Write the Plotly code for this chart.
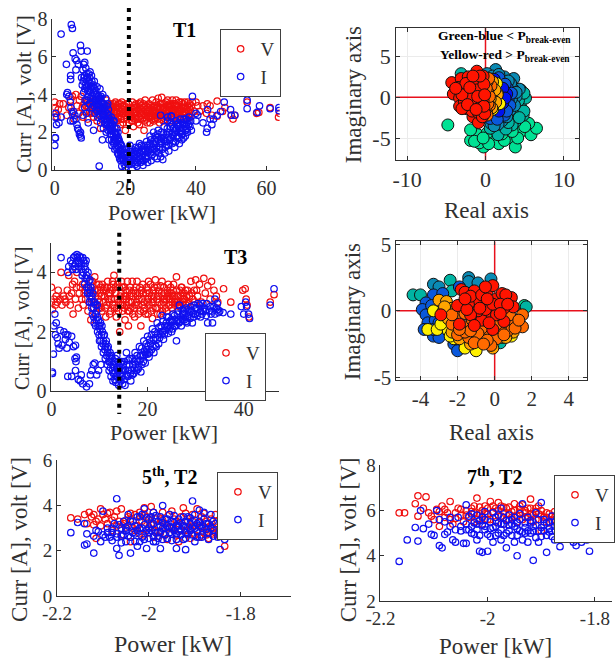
import plotly.graph_objects as go

# ---------- data: (power, value) ----------
t1_v = [(0,3.6),(.2,3.3),(.4,3),(.6,2.8),(1,3.2),(1.4,3.5),(2.4,3.5),(3.4,2.9),(4,3.3),(4.5,3.7),(4.8,3.1),(5,3.9),(5.5,2.7),(6,4),(6.3,3.4),(6.8,3),(7,3.7),(7.5,3.9),(7.8,3.3),(8,2.8),(8.3,3.5),(8.7,3.1),(9,3.7),(9.3,2.7),(9.6,3.3),(10,3.6),(10.3,3),(10.7,3.4),(11,2.8),(11.3,3.7),(11.6,3.2),(12,2.6),(12.3,3.5),(12.6,3),(13,2.2),(13.3,3.6),(13.6,2.9),(14,3.3),(14.4,2.5),(14.7,3.7),(15,3),(15.4,3.4),(15.7,2.7),(16,3.2),(16.4,2.4),(16.7,3.5),(17,2.9),(17.3,3.3),(17.6,2.6),(18,3.5),(18.3,3),(18.6,2.4),(19,3.6),(19.3,3.2),(19.6,2.7),(20,2.1),(20.3,3.5),(20.6,3),(21,2.5),(21.3,3.3),(21.7,2.8),(22,3.6),(22.3,2.3),(22.7,3.1),(23,3.5),(23.3,2.7),(23.7,3.2),(24,2.4),(24.3,3.6),(24.6,2.9),(25,3.3),(25.3,2.1),(25.6,3.7),(26,2.7),(26.3,3.1),(26.7,3.5),(27,2.5),(27.3,3),(27.7,3.7),(28,3.3),(28.3,2.7),(28.7,3.6),(29,2.9),(29.3,3.8),(29.7,2.5),(30,3.3),(30.3,3.85),(30.6,2.9),(31,3.5),(31.3,2.7),(31.7,3.2),(32,3.7),(32.3,3),(32.7,2.6),(33,3.4),(33.3,3.7),(33.7,2.9),(34,3.2),(34.4,3.7),(34.7,2.7),(35,3.4),(35.4,3),(35.8,3.6),(36,2.8),(36.4,3.3),(36.8,3.6),(37.2,3),(37.6,3.4),(38,2.9),(38.4,3.2),(39,3.6),(39.5,3.1),(40,3.6),(40.5,3.4),(41,3.1),(42,3.4),(43.2,3.5),(44,3.4),(43,3),(44.5,2.9),(46,3.65),(46,2.85),(47.5,3.1),(48.2,3.3),(50,2.9),(50.5,2.7),(51,2.9),(54.5,3.6),(57.2,3),(57.8,3.05),(61,3.3),(63.4,2.8),(63.7,3)]
t1_v_core = [(15.2,2.9),(15.9,3.5),(16.2,2.7),(16.9,3.1),(17.2,3.6),(17.9,2.8),(18.1,3.3),(18.8,2.7),(19.1,3),(19.8,3.4),(20.1,2.9),(20.8,3.3),(21.2,2.8),(21.9,3.1),(22.1,2.6),(22.5,3.4),(23.2,2.9),(23.5,2.5),(23.9,3.5),(24.2,3),(24.8,2.7),(25.1,3.5),(25.5,2.9),(25.9,3.2),(26.2,2.5),(26.5,3.3),(26.9,2.9),(27.2,3.4),(27.5,2.7),(27.9,3.1),(28.1,2.6),(28.5,3.1),(28.9,3.3),(29.2,2.7),(29.5,3.2),(29.9,3.5),(30.2,2.7),(30.5,3.1),(30.9,3.3),(31.2,2.9),(31.5,3.6),(31.9,2.9),(32.2,3.4),(32.5,3.2),(32.9,2.8),(33.2,3.1),(33.5,3.5),(33.9,2.7),(34.2,3),(34.5,3.4),(34.9,3.1),(35.2,2.8),(35.6,3.2),(36.2,3),(36.6,2.7),(37,3.3),(37.4,2.8),(37.8,3.1),(38.2,3.5),(38.6,3),(17.5,3.1),(18.5,3.5),(19.5,3),(20.5,3.2),(21.5,3),(22.6,3.3),(24.5,3.2),(25.7,3.1),(27.4,2.9),(28.6,2.9),(30.1,3),(31.4,3.1),(33.1,3),(34.8,3.2),(36.5,3.1),(8.9,3.4),(9.9,3.1),(10.9,3.2),(11.9,3.4),(12.9,3.3),(14.1,2.9),(14.9,3.3)]
t1_v_fill = [(15.5,3.1),(16.1,3),(16.6,3.3),(17.1,2.7),(17.7,3.4),(18.2,2.8),(18.9,3.2),(19.4,2.5),(19.9,3.1),(20.4,2.7),(20.9,3.5),(21.4,3.1),(21.8,2.6),(22.4,3),(22.8,2.7),(23.4,3.3),(23.8,2.8),(24.4,3.4),(24.9,3.1),(25.4,2.6),(25.8,3.4),(26.4,2.8),(26.8,3.2),(27.1,2.8),(27.6,3.3),(28.2,3),(28.8,2.8),(29.1,3.4),(29.6,2.9),(30.4,3.5),(30.8,2.6),(31.1,3.3),(31.6,2.8),(32.1,3.1),(32.6,3.5),(33.4,2.8),(33.6,3.2),(34.1,3.5),(34.6,2.9),(35.1,3.2),(35.5,2.7),(35.9,3.3),(36.3,3.5),(36.9,2.9),(37.3,3.2),(37.7,3.6),(38.1,3.3),(38.7,3.4),(16,3.4),(17.4,3),(18.4,3.1),(19.2,3.4),(20.2,3.1),(21.1,3.2),(22.2,3.2),(23.1,3.1),(24.1,2.7),(25.2,3),(26.1,3),(27.3,3.2),(28.4,3.4),(29.4,3),(30.7,3.3),(31.8,3.4),(32.8,3.3),(33.8,3.1),(35.3,3.6),(36.7,3.3),(38.3,2.8),(9.2,3.6),(10.2,3.4),(11.2,3),(12.2,3.2),(13.2,3.1),(13.8,3.5),(14.5,3.1)]
t1_i = [(1.8,7.2),(4.7,7.7),(5,7.5),(7.3,6.6),(7.5,6.3),(9.2,6.3),(5.2,6.2),(3.3,5.6),(5.8,5.9),(6.2,5.8),(6.7,5.6),(6,5.3),(4.5,5),(4.5,4.8),(8.5,5.7),(8.2,5.6),(0,1.3),(.1,1.7),(.2,1.7),(.5,2.4),(.1,2.8),(.2,3),(1.2,2.5),(1.8,2.8),(3.4,4),(3.6,4.1),(4,3.9),(4.4,3.6),(4.6,3.3),(4.5,2.6),(5,3),(5.3,3.1),(5.7,2.9),(6,2.7),(6.3,2.4),(6.5,2.2),(6.8,2.1),(7,1.9),(7.3,1.8),(7.5,1.7),(7.3,2),(12.6,.2),(13.5,1.6),(11,2.1),(9.5,2.5),(8,2.9),(8.5,3.3),(9,3),(5.2,2.6),(7.6,4.9),(7.8,4.5),(8,5.3),(8.2,4.1),(8.4,5),(8.6,3.7),(8.8,5.4),(9,4.4),(9.2,4.9),(9.4,3.9),(9.6,5.1),(9.8,3.5),(10,4.6),(10.2,4.1),(10.4,5),(10.6,3.3),(10.8,4.4),(11,3.8),(11.2,4.7),(11.4,3),(11.6,4.2),(11.8,3.5),(12,4.4),(12.2,2.8),(12.4,3.9),(12.6,3.2),(12.8,4.3),(13,2.5),(13.2,3.6),(13.4,3),(13.6,4),(13.8,2.2),(14,3.3),(14.2,2.7),(14.4,3.8),(14.6,2),(14.8,3),(15,2.4),(15.2,3.2),(15.4,1.6),(15.6,2.7),(15.8,2.1),(16,2.8),(16.2,1.3),(16.4,2.4),(16.6,1.8),(16.8,2.6),(17,1.1),(17.2,2),(17.4,1.5),(17.6,2.2),(17.8,.9),(18,1.7),(18.2,1.2),(18.4,.6),(18.6,1.4),(18.8,.9),(19,.2),(19.2,1.1),(19.5,.5),(19.8,.8),(20,.15),(20.3,1.1),(20.6,.4),(21,.7),(21.3,1.3),(21.6,.3),(22,.05),(22.3,.9),(22.6,.5),(23,1.2),(23.3,.2),(23.6,.7),(24,1.4),(24.3,.4),(24.6,1),(25,.25),(25.3,1.3),(25.6,.7),(26,1.5),(26.3,.4),(26.6,1),(27,1.8),(27.3,.5),(27.6,1.2),(28,2),(28.3,.7),(28.6,1.5),(29,.6),(29.3,2.1),(29.6,1.1),(30,.7),(30.3,1.7),(30.6,.55),(31,2.3),(31.3,1.2),(31.6,1.9),(32,2.6),(32.3,1),(32.6,1.6),(33,2.85),(33.3,1.4),(33.6,2.2),(34,1.2),(34.3,2.6),(34.6,1.8),(35,2.3),(35.3,1.4),(35.6,2.7),(36,1.6),(36.3,2.2),(36.6,2.7),(37,1.8),(37.3,2.4),(37.6,2),(38,2.8),(38.3,2.3),(39,3.9),(40,3),(40.5,2.9),(40,2.6),(42,2.5),(43,2),(43.2,2.2),(43.3,3.2),(44,2.7),(44.5,2.4),(45,2.7),(46,2.9),(47,3.1),(48,3.6),(49.8,3.2),(50,2.9),(51,2.9),(54.5,3.7),(54.5,3.25),(58,3.4),(57.3,3.05),(61,3.25),(63.5,3.3),(63.5,3.15),(30,2.9),(32,2.8),(33,2.85)]
t1_i_core = [(8.1,4.7),(8.5,4.3),(8.9,4.8),(9.1,3.7),(9.5,4.5),(9.7,4.2),(9.9,4.9),(10.1,3.8),(10.3,4.4),(10.7,3.9),(10.9,4.1),(11.1,3.4),(11.3,4.3),(11.5,3.7),(11.7,3.2),(11.9,4),(12.1,3.1),(12.3,3.7),(12.5,3.5),(12.7,2.9),(12.9,3.4),(13.1,3.9),(13.3,2.7),(13.5,3.3),(13.7,2.9),(13.9,3.5),(14.1,2.5),(14.3,3.1),(14.5,2.4),(14.7,3.4),(14.9,2.6),(15.1,2.1),(15.3,2.9),(15.5,2.3),(15.7,1.9),(15.9,2.5),(16.1,1.6),(16.3,2.1),(16.5,2.6),(16.7,1.4),(16.9,2),(17.1,1.7),(17.3,1.2),(17.5,1.8),(17.7,1.3),(17.9,2),(18.1,.8),(18.3,1.5),(18.5,1),(18.7,.5),(18.9,1.3),(19.1,.7),(19.4,.9),(19.7,.3),(20.1,.6),(20.5,.9),(20.9,.3),(21.2,1),(21.5,.6),(21.9,1.1),(22.2,.4),(22.5,.8),(22.9,.3),(23.2,1),(23.5,.4),(23.9,.9),(24.2,.6),(24.5,1.3),(24.9,.5),(25.2,.9),(25.5,1.1),(25.9,.6),(26.2,1.3),(26.5,.7),(26.9,1.1),(27.2,1.6),(27.5,.8),(27.9,1.4),(28.2,1.1),(28.5,1.8),(28.9,1.2),(29.2,1.6),(29.5,.9),(29.9,1.4),(30.2,2),(30.5,1.1),(30.9,1.6),(31.2,.9),(31.5,1.5),(31.9,2.2),(32.2,1.3),(32.5,2),(32.9,1.7),(33.2,2.4),(33.5,1.8),(33.9,2),(34.2,1.5),(34.5,2.2),(34.9,1.7),(35.2,2),(35.5,2.4),(35.9,1.9),(36.2,2.5),(36.5,1.7),(36.9,2.3),(37.2,2.7),(37.5,2.2),(37.9,2.4),(38.5,2.6)]
t1_i_fill = [(8.3,4.9),(8.7,4.5),(9.3,4.2),(9.6,4.7),(10.1,4.3),(10.5,4.7),(10.9,3.6),(11.4,4),(11.8,3.8),(12.2,3.5),(12.6,3.8),(13,3.2),(13.4,3.5),(13.8,3.1),(14.2,3.4),(14.6,2.7),(15,2.9),(15.4,2.5),(15.8,2.4),(16.2,2.2),(16.6,1.5),(17,2.2),(17.4,1.9),(17.8,1.6),(18.2,1.6),(18.6,.8),(19,1),(19.4,.6),(19.8,1.1),(20.2,.4),(20.7,.7),(21.2,.5),(21.7,.9),(22.2,.7),(22.7,1),(23.2,.6),(23.7,1.2),(24.2,.9),(24.7,.7),(25.2,.5),(25.7,1),(26.2,.9),(26.7,1.3),(27.2,.9),(27.7,1.1),(28.2,1.6),(28.7,1),(29.2,1.9),(29.7,1.2),(30.2,1.5),(30.7,1.9),(31.2,1.5),(31.7,1.3),(32.2,1.8),(32.7,2.3),(33.2,1.9),(33.7,1.5),(34.2,2.1),(34.7,2.4),(35.2,1.7),(35.7,2.1),(36.2,1.9),(36.7,2.4),(37.2,2.1),(37.7,2.6),(38.7,2.1),(9,5.1),(10,5.2),(11,4.5),(12,3.3),(13,3.8),(14,2.9),(15,3.5),(16,1.9),(17,1.6),(18,1.1),(19,.6),(23,.8),(25,1.1),(27,1.4),(29,1.7),(31,1.7),(33,2.5),(35,2.5),(37,2.1)]

t3_v = [(0,3.5),(0,3),(.2,2.75),(.5,3.1),(.8,2.9),(1,3.2),(1.4,3.4),(1.8,3.1),(2,4),(2.5,3.2),(3,3),(3.3,3.4),(3.6,3.9),(3.9,2.9),(4.2,3.3),(4.5,2.6),(4.8,3.7),(5,3.1),(5.3,4),(5.6,2.8),(6,3.5),(6.3,3.1),(6.6,2.9),(7,3.4),(7.3,3.8),(7.6,2.7),(8,3.3),(8.2,2.4),(8.5,3.7),(8.8,3),(9,3.85),(9.3,2.6),(9.6,3.4),(10,3),(10.3,2.8),(10.6,3.6),(11,3.2),(11.3,2.5),(11.6,3.5),(12,3),(12.3,2.7),(12.6,3.4),(13,3.9),(13.2,3.1),(13.5,2.5),(13.8,3.6),(14,3),(14.2,2),(14.5,3.3),(14.8,2.7),(15,3.5),(15.3,2.4),(15.6,3.1),(16,2.2),(16.2,3.4),(16.5,2.8),(16.8,3.7),(17,3.2),(17.3,2.5),(17.6,3.5),(18,2.9),(18.3,3.3),(18.6,2.2),(19,3.6),(19.3,3),(19.6,2.6),(20,3.4),(20.3,2.9),(20.6,3.6),(21,2.45),(21.3,3.2),(21.6,3.75),(22,2.8),(22.3,3.4),(22.6,2.6),(23,3.7),(23.3,3),(23.6,3.3),(24,2.7),(24.3,3.6),(24.6,3.1),(25,2.8),(25.3,3.4),(25.6,3),(26,3.85),(26.3,3.2),(26.6,2.85),(27,3.5),(27.3,3.1),(27.6,3.3),(28,2.9),(28.3,3.4),(29,3.7),(29.4,3.1),(29.7,3.4),(30,3.75),(30.4,3.2),(30.8,3.6),(31.2,3),(31.7,3.8),(32,3.3),(32.5,3.55),(33,3.1),(33.3,3.7),(33.8,3.4),(34.3,3.2),(34.6,3),(35.8,3.45),(37.3,3),(39.8,3.4),(40.3,3.45),(40.5,3.1),(40.7,2.9),(41.1,2.5),(45.5,3),(46.3,3.25)]
t3_v_core = [(8.4,3.1),(9.1,3.4),(9.5,2.9),(9.9,3.6),(10.1,3.3),(10.5,2.7),(10.9,3),(11.1,3.5),(11.5,2.9),(11.9,3.3),(12.1,2.6),(12.5,3.1),(12.9,3.6),(13.1,2.8),(13.4,3.3),(13.9,2.7),(14.1,3.5),(14.4,2.9),(14.9,3.1),(15.2,2.8),(15.5,3.4),(15.9,2.7),(16.1,3),(16.4,3.5),(16.9,2.6),(17.1,3.4),(17.4,2.9),(17.9,3.2),(18.1,2.6),(18.4,3.5),(18.9,2.9),(19.1,3.3),(19.4,2.8),(19.9,3),(20.1,2.6),(20.4,3.3),(20.9,3),(21.1,2.8),(21.4,3.5),(21.9,3.1),(22.1,2.6),(22.4,3),(22.9,3.3),(23.1,2.7),(23.4,3.5),(23.9,3.1),(24.1,3.4),(24.4,2.9),(24.9,3.3),(25.1,3),(25.4,3.6),(25.9,3.1),(26.1,3.4),(26.4,2.9),(26.9,3.2),(27.1,3.5),(27.4,3),(27.9,3.4),(28.1,3.2),(28.5,3),(11.7,3.7),(12.7,3.7),(14.6,3.7),(15.8,3.7),(17.8,3.7),(20.2,3.7),(22.7,3.55),(9.7,3.1),(16.3,3.2),(18.7,3.1),(21.2,3.1),(24.7,2.9),(7.9,3),(7.1,3.1),(6.8,3.3)]
t3_v_fill = [(8.6,3.5),(9.2,3.2),(9.8,2.8),(10.4,3.2),(10.8,3.4),(11.2,2.8),(11.8,3.1),(12.4,3.5),(12.8,2.9),(13.3,3.5),(13.7,3.1),(14.3,3.2),(14.7,3.5),(15.1,3.2),(15.7,2.9),(16.2,2.7),(16.7,3.3),(17.2,2.8),(17.7,3),(18.2,3.1),(18.8,3.4),(19.2,2.7),(19.7,3.3),(20.2,3.1),(20.7,2.7),(21.2,3.4),(21.7,2.8),(22.2,3.2),(22.8,2.9),(23.2,3.2),(23.7,2.8),(24.2,3.2),(24.8,3.5),(25.2,3.2),(25.7,2.9),(26.2,3),(26.7,3.4),(27.2,3.3),(27.7,3.1),(28.2,2.95),(28.7,3.2),(29.2,3.3),(29.8,3),(30.2,3.4),(8.8,2.8),(9.4,3.6),(10.2,3.5),(11.4,3.4),(12.2,3.3),(13.6,2.8),(14.8,2.9),(15.4,3.2),(16.6,3),(17.5,3.3),(18.5,2.7),(19.8,3.5),(20.8,3.2),(22,3.5),(23.5,3.1),(24.5,3.3),(25.5,3.2),(26.8,3),(7.2,3.5),(6.5,3.6),(5.8,3.3),(5.2,3.5),(4.4,3.6),(3.7,3.2),(2.8,3.1),(2.2,2.9),(1.2,3)]
t3_i = [(3.6,4.2),(4,4.4),(4.4,4.1),(4.6,4.5),(5,4.3),(5.3,4.6),(5.6,4.2),(5.8,4.55),(6.2,4.1),(6.5,4.5),(6.8,4.2),(7,3.8),(7.2,4.4),(7.4,3.5),(7.6,4),(7.8,3.7),(8,3.2),(8.2,3.5),(8.4,2.8),(8.6,3.3),(8.8,2.5),(9,3),(9.2,2.2),(9.4,2.7),(9.6,2),(9.8,2.4),(10,1.7),(10.2,2.3),(10.4,1.5),(10.6,2),(10.8,1.3),(11,1.9),(11.2,1.1),(11.4,1.7),(11.6,.9),(11.8,1.5),(12,.7),(12.2,1.3),(12.4,.5),(12.6,1.1),(12.8,.35),(13,1),(13.2,.6),(13.4,.3),(13.6,1.2),(13.8,.5),(14,.2),(14.2,.8),(14.4,.35),(14.6,1),(14.8,.25),(15,.7),(15.3,.2),(15.6,1.3),(15.9,.5),(16.2,.9),(16.5,.35),(16.8,1.1),(17.1,.6),(17.4,1.3),(17.7,.7),(18,1),(18.3,1.5),(18.6,.65),(18.9,1.2),(19.2,1.7),(19.5,.95),(19.8,1.4),(20,1.85),(20.3,1.15),(20.6,1.6),(21,2.1),(21.3,1.3),(21.6,1.8),(22,2.3),(22.3,1.6),(22.6,2),(23,2.55),(23.3,1.75),(23.6,2.2),(24,2.5),(24.3,1.95),(24.6,2.35),(25,2),(25.3,2.6),(25.6,2.2),(26,1.7),(26.3,2.4),(26.6,2.9),(27,2.2),(27.3,2.6),(27.6,2.4),(28,2.8),(28.3,2.5),(28.8,2.7),(29.3,2.3),(29.7,2.9),(30,2.6),(30.5,2.95),(31,2.7),(31.5,2.95),(32,2.7),(32.5,2.3),(33,2.85),(33.5,2.3),(34,3.1),(34.3,2.8),(34.8,2.65),(35.7,2.65),(37.3,2.6),(39.5,2.85),(40,2.6),(40.4,3),(40.6,2.85),(41,2.6),(41.2,2.45),(45.5,2.9),(46.3,3.45),(2,4.5),(3.4,4),(.2,.65),(.2,.6),(.4,1.25),(.5,2.2),(.7,2.6),(.8,1.9),(1,2.3),(1.2,1.8),(1.4,1.6),(1.6,1.45),(1.8,2.05),(2.2,1.55),(2.6,2),(2.9,1.75),(3.2,1.45),(3.4,1.9),(3.7,1.65),(4.2,1.85),(4.6,1.5),(5,1.55),(4.9,1.1),(5.2,1.15),(5.1,1),(3.4,.5),(4.2,.5),(5,.7),(5.6,.4),(6,.35),(6.2,.55),(6.5,.25),(7.3,.15),(7.9,.25),(8.1,.55),(8.4,.7),(9,.95),(9.4,.55),(9.8,.7),(10.3,.9),(3,1.9),(8.7,.9)]
t3_i_core = [(4.3,4.3),(4.9,4.55),(5.1,4.1),(5.5,4.4),(5.9,4.3),(6.1,4.5),(6.4,3.9),(6.7,4.4),(6.9,3.6),(7.1,4.1),(7.3,3.9),(7.5,3.3),(7.7,3.5),(7.9,3),(8.1,3.4),(8.3,3),(8.5,2.6),(8.7,3),(8.9,2.3),(9.1,2.6),(9.3,2.4),(9.5,2.9),(9.7,2.2),(9.9,1.9),(10.1,2.1),(10.3,1.7),(10.5,2.2),(10.7,1.6),(10.9,1.9),(11.1,1.4),(11.3,1.6),(11.5,1.2),(11.7,1.3),(11.9,1),(12.1,1),(12.3,.8),(12.5,1.2),(12.7,.7),(12.9,.6),(13.1,.8),(13.3,1.1),(13.5,.5),(13.7,.8),(13.9,1),(14.1,.4),(14.3,.6),(14.5,.7),(14.7,.5),(14.9,.9),(15.1,.4),(15.4,.7),(15.7,.9),(16,.7),(16.3,1.1),(16.6,.7),(16.9,.9),(17.2,1),(17.5,.9),(17.8,1.2),(18.1,.8),(18.5,1.2),(18.8,1.45),(19.1,1),(19.4,1.35),(19.7,1.6),(20.1,1.5),(20.4,1.3),(20.8,1.9),(21.1,1.5),(21.5,2),(21.8,1.5),(22.1,1.9),(22.5,1.8),(22.8,2.2),(23.1,2),(23.5,1.9),(23.9,2.3),(24.2,2.2),(24.5,2.1),(24.9,2.4),(25.2,2.1),(25.5,2.4),(25.9,2.2),(26.2,2.6),(26.5,2.3),(26.9,2.5),(27.2,2.4),(27.5,2.7),(27.9,2.5),(28.2,2.3),(28.6,2.6),(29,2.85),(29.5,2.6),(30.2,2.8),(30.8,2.9),(31.3,2.6),(31.8,2.8),(32.3,2.95),(33.2,2.6),(33.8,2.85),(34.5,2.95)]
t3_i_fill = [(4.7,4.2),(5.4,4.5),(5.7,4.35),(6.3,4.3),(6.6,4),(7,4.3),(7.4,3.8),(7.8,3.3),(8,3.75),(8.4,3.2),(8.8,2.8),(9.2,2.9),(9.6,2.5),(10,2.2),(10.4,1.9),(10.8,1.7),(11.2,1.5),(11.6,1.45),(12,1.2),(12.4,1),(12.8,.9),(13.2,.4),(13.6,.75),(14,.75),(14.4,.95),(14.8,.7),(15.2,1),(15.6,.55),(16,1.05),(16.4,.6),(16.8,.55),(17.2,.75),(17.6,1.05),(18,.75),(18.4,1.05),(18.8,.9),(19.2,1.2),(19.6,1.25),(20,1.25),(20.4,1.75),(20.8,1.4),(21.2,1.75),(21.6,1.55),(22,1.75),(22.4,2.15),(22.8,1.9),(23.2,2.35),(23.6,2.05),(24,2.15),(24.4,2.5),(24.8,2.2),(25.2,2.35),(25.6,2.55),(26,2.35),(26.4,2.7),(26.8,2.35),(27.2,2.75),(27.6,2.6),(28,2.35),(28.4,2.75),(28.8,2.45),(29.2,2.7),(29.6,2.5),(30,2.8),(30.4,2.55),(31,2.5),(31.6,2.7),(32.2,2.55),(32.8,2.7),(33.4,2.7),(34,2.6),(34.6,2.75),(35,2.7)]

h5_v = [(-2.17,3.45),(-2.155,3.4),(-2.14,3.6),(-2.13,3.7),(-2.12,3.15),(-2.115,2.55),(-2.11,3.4),(-2.105,3.85),(-2.1,3.6),(-2.09,3.2),(-2.085,3.7),(-2.08,2.9),(-2.07,3.75),(-2.065,3.3),(-2.06,3.85),(-2.05,3.05),(-2.045,3.5),(-2.04,2.4),(-2.035,3),(-2.03,3.6),(-2.02,2.75),(-2.015,3.3),(-2.01,3.9),(-2,3.05),(-1.995,3.95),(-1.99,2.6),(-1.985,3.4),(-1.98,3.1),(-1.975,2.8),(-1.97,3.7),(-1.965,3.2),(-1.96,2.5),(-1.955,3.6),(-1.95,3),(-1.945,3.4),(-1.94,2.7),(-1.935,2.4),(-1.93,3.5),(-1.925,3.9),(-1.92,2.9),(-1.915,3.3),(-1.91,2.55),(-1.905,3.6),(-1.9,3.1),(-1.895,3.85),(-1.89,2.6),(-1.885,3.5),(-1.88,2.8),(-1.875,3.3),(-1.87,2.55),(-1.865,3.4),(-1.86,3),(-1.855,3.6),(-1.85,2.7),(-1.84,3.05),(-1.835,2.2),(-1.83,3),(-1.82,2.75),(-1.81,2.85),(-1.785,2.7)]
h5_v_core = [(-2.125,3.5),(-2.115,3.3),(-2.095,3.4),(-2.075,3.5),(-2.055,3.2),(-2.04,3.4),(-2.025,3.1),(-2.005,3.5),(-1.995,3.2),(-1.985,2.9),(-1.975,3.4),(-1.965,2.7),(-1.955,3),(-1.945,2.9),(-1.935,3.2),(-1.925,3.1),(-1.915,2.7),(-1.905,3.3),(-1.895,2.9),(-1.885,3.1),(-1.875,2.7),(-1.865,3.1),(-1.855,2.8),(-2.02,3.3),(-2.01,3.6),(-2,2.8)]
h5_v_fill = [(-2.135,3.2),(-2.12,3.6),(-2.105,3.1),(-2.09,3.65),(-2.08,3.35),(-2.07,3.1),(-2.06,2.7),(-2.05,3.35),(-2.04,3.65),(-2.03,2.9),(-2.02,3.7),(-2.01,2.7),(-2,3.35),(-1.99,3.7),(-1.98,2.65),(-1.97,3.35),(-1.96,3.05),(-1.95,3.75),(-1.94,3.3),(-1.93,2.9),(-1.92,3.65),(-1.91,3),(-1.9,2.7),(-1.89,3.25),(-1.88,3.65),(-1.87,3.05),(-1.86,2.75),(-1.85,3.3),(-1.84,2.8),(-1.83,2.65)]
h5_i = [(-2.17,2.8),(-2.155,3.25),(-2.14,3.2),(-2.14,2.25),(-2.135,2.3),(-2.135,2.75),(-2.12,1.9),(-2.115,2.9),(-2.105,2.4),(-2.1,3.75),(-2.1,2.7),(-2.09,3),(-2.085,2.6),(-2.08,2.8),(-2.075,3.2),(-2.07,2.1),(-2.07,4.3),(-2.065,1.8),(-2.06,2.65),(-2.055,3.3),(-2.05,2.4),(-2.045,3.6),(-2.04,1.9),(-2.035,2.8),(-2.03,3.1),(-2.025,2.2),(-2.02,3.5),(-2.015,2.6),(-2.01,3.85),(-2.005,2.1),(-2,3),(-1.995,3.5),(-1.99,2.4),(-1.985,2.8),(-1.98,3.3),(-1.975,2.1),(-1.97,4),(-1.965,2.7),(-1.96,3.1),(-1.955,3.6),(-1.95,2.45),(-1.945,2.9),(-1.94,2.1),(-1.935,3.4),(-1.93,2.7),(-1.925,3.1),(-1.92,2.05),(-1.915,3.5),(-1.91,2.9),(-1.905,4.2),(-1.9,2.4),(-1.895,3.2),(-1.89,3.8),(-1.885,2.7),(-1.88,3.4),(-1.875,2.95),(-1.87,2.5),(-1.865,3.6),(-1.86,2.9),(-1.855,3.2),(-1.85,2.6),(-1.845,2.05),(-1.84,4),(-1.835,2.5),(-1.83,3),(-1.825,3.6),(-1.82,2.7),(-1.81,3.3),(-1.805,2.95)]
h5_i_core = [(-2.05,2.9),(-2.045,3.1),(-2.04,2.6),(-2.035,3.3),(-2.03,2.4),(-2.025,2.9),(-2.02,3),(-2.015,3.6),(-2.01,2.5),(-2.005,2.9),(-2,3.4),(-2,2.55),(-1.995,2.9),(-1.99,3.2),(-1.99,3.7),(-1.985,2.4),(-1.98,2.8),(-1.975,3.1),(-1.975,3.5),(-1.97,2.5),(-1.97,3),(-1.965,3.4),(-1.96,2.55),(-1.955,3.05),(-1.95,2.75),(-1.95,3.3),(-1.945,3.55),(-1.94,2.5),(-1.94,3.1),(-1.935,2.85),(-1.93,3.25),(-1.925,2.5),(-1.92,3.3),(-1.92,2.8),(-1.915,3.05),(-1.91,3.45),(-1.905,2.7),(-1.9,3.6),(-1.9,3),(-1.895,2.6),(-1.89,3.3),(-1.885,3),(-1.88,3.7),(-1.875,3.2),(-1.87,2.8),(-1.865,3),(-1.86,3.3),(-2.06,3),(-2.07,2.75),(-2.08,3),(-2.09,2.8),(-2.065,3.15),(-2.055,2.7)]
h5_i_fill = [(-2.12,2.65),(-2.11,2.85),(-2.095,2.6),(-2.08,2.45),(-2.07,2.6),(-2.06,2.35),(-2.05,3),(-2.045,2.65),(-2.04,3.3),(-2.03,2.75),(-2.025,3.5),(-2.02,2.4),(-2.015,3),(-2.01,3.15),(-2.005,3.45),(-2,2.8),(-1.995,3.15),(-1.99,2.65),(-1.985,3.55),(-1.98,2.55),(-1.975,2.85),(-1.97,3.25),(-1.965,3),(-1.96,3.4),(-1.955,2.8),(-1.95,3.05),(-1.945,3.25),(-1.94,2.75),(-1.935,3.1),(-1.93,2.95),(-1.925,3.5),(-1.92,2.55),(-1.915,2.75),(-1.91,3.2),(-1.905,3.05),(-1.9,3.35),(-1.895,2.85),(-1.89,3.1),(-1.885,2.6),(-1.88,3.05),(-1.87,3.2),(-1.86,2.65)]

h7_v = [(-2.165,5.9),(-2.155,5.9),(-2.135,6.3),(-2.13,6.65),(-2.13,5.75),(-2.12,6.1),(-2.115,6.6),(-2.11,5.9),(-2.1,5.6),(-2.095,6.05),(-2.09,5.3),(-2.085,6.2),(-2.08,5.7),(-2.075,5.9),(-2.07,6.4),(-2.065,5.4),(-2.06,5.9),(-2.05,6.05),(-2.045,5.5),(-2.04,5.8),(-2.03,6.1),(-2.025,5.5),(-2.02,6.55),(-2.015,5.85),(-2.01,5.4),(-2.005,6.2),(-2,5.6),(-1.995,6.4),(-1.99,5.95),(-1.985,5.5),(-1.98,6.35),(-1.975,5.75),(-1.97,5.4),(-1.965,6.1),(-1.96,5.6),(-1.955,5.95),(-1.95,6.3),(-1.945,5.5),(-1.94,5.9),(-1.935,6.25),(-1.93,5.7),(-1.925,6.1),(-1.92,6.5),(-1.915,5.5),(-1.91,5.95),(-1.905,6.2),(-1.9,5.1),(-1.895,5.7),(-1.89,5.9),(-1.885,5.45),(-1.88,5.75),(-1.875,5.95),(-1.87,5.55),(-1.865,5.8),(-1.855,5.3),(-1.85,5.85),(-1.84,5.55),(-1.835,5.2),(-1.82,5.6),(-1.81,5.35)]
h7_v_core = [(-2.06,5.65),(-2.055,6.1),(-2.035,5.7),(-2.03,5.95),(-2.02,5.6),(-2.015,6.15),(-2.005,5.85),(-2,6.1),(-1.995,5.6),(-1.985,6.1),(-1.98,5.8),(-1.975,6.2),(-1.97,5.9),(-1.965,5.6),(-1.96,6.15),(-1.955,5.7),(-1.95,6),(-1.945,5.75),(-1.94,6.2),(-1.935,5.6),(-1.93,6),(-1.925,5.75),(-1.92,6.1),(-1.915,5.8),(-1.91,5.6),(-1.905,5.85),(-1.9,6),(-1.895,5.5),(-1.885,5.85),(-1.875,5.6),(-2.025,5.9),(-2.01,5.75)]
h7_v_fill = [(-2.105,5.75),(-2.09,5.95),(-2.08,6.05),(-2.07,5.6),(-2.05,5.8),(-2.04,6),(-2.025,6.2),(-2.01,6),(-2,5.85),(-1.99,6.2),(-1.98,6),(-1.97,6.15),(-1.96,5.85),(-1.95,5.75),(-1.94,6.05),(-1.93,5.9),(-1.92,5.85),(-1.91,6.1),(-1.9,5.8),(-1.89,5.7),(-1.88,5.55),(-1.87,5.8),(-1.86,5.6),(-1.845,5.75),(-1.83,5.5)]
h7_i = [(-2.165,3.75),(-2.15,4.7),(-2.135,5.25),(-2.13,4.65),(-2.125,6),(-2.12,5.2),(-2.11,5.4),(-2.105,4.95),(-2.1,4.9),(-2.095,6),(-2.09,5.6),(-2.09,4.45),(-2.085,4.35),(-2.08,5.5),(-2.075,5.05),(-2.07,5.3),(-2.065,4.7),(-2.06,4.6),(-2.055,5.7),(-2.05,5.3),(-2.045,4.55),(-2.04,4.55),(-2.04,6.25),(-2.035,5.15),(-2.03,5.85),(-2.025,4.95),(-2.02,5.4),(-2.015,4.2),(-2.01,4.15),(-2.005,5.95),(-2,4.2),(-1.995,5.2),(-1.99,4.6),(-1.985,5.7),(-1.98,5),(-1.975,6.1),(-1.97,5.4),(-1.965,4.35),(-1.96,5.8),(-1.955,4.9),(-1.95,5.3),(-1.945,4),(-1.94,5.6),(-1.935,6.3),(-1.93,5),(-1.925,4.6),(-1.92,5.45),(-1.915,3.8),(-1.91,5.9),(-1.905,4.6),(-1.9,6.35),(-1.895,5.1),(-1.89,4.15),(-1.885,5.5),(-1.88,5.1),(-1.875,4.7),(-1.87,5.7),(-1.865,4.4),(-1.86,5.2),(-1.855,4.95),(-1.85,4.75),(-1.845,5.4),(-1.84,4.6),(-1.835,4.45),(-1.83,5.3),(-1.825,4.6),(-1.82,5.25),(-1.815,4.7),(-1.81,4.2)]
h7_i_core = [(-2.05,5.1),(-2.04,5.4),(-2.035,5.75),(-2.03,5),(-2.025,5.45),(-2.02,5.8),(-2.015,4.9),(-2.01,5.35),(-2.005,5.6),(-2,4.95),(-1.995,5.5),(-1.99,5.9),(-1.99,5.25),(-1.985,4.9),(-1.98,5.45),(-1.975,5.15),(-1.97,5.7),(-1.965,5),(-1.96,5.35),(-1.955,5.6),(-1.95,4.6),(-1.945,5.2),(-1.94,5.85),(-1.935,5.05),(-1.93,5.45),(-1.925,5.7),(-1.92,5),(-1.915,5.3),(-1.91,4.8),(-1.905,5.6),(-1.9,5.25),(-1.895,5.6),(-1.89,4.9),(-1.885,5.2),(-1.88,5.75),(-1.875,5.3),(-1.87,5),(-1.865,5.5),(-1.86,4.8),(-2.06,5.15),(-2.07,5.7),(-2.08,4.95),(-1.945,4.9),(-1.975,4.7),(-2.005,5.15),(-2.02,4.7)]
h7_i_fill = [(-2.03,5.3),(-2.02,5.15),(-2.01,5.7),(-2.005,5.3),(-1.995,4.85),(-1.985,5.3),(-1.98,5.8),(-1.975,5.4),(-1.97,4.9),(-1.965,5.55),(-1.96,5.1),(-1.955,5.4),(-1.95,5.7),(-1.945,5.45),(-1.94,5.1),(-1.935,4.7),(-1.93,5.25),(-1.925,5.1),(-1.92,5.55),(-1.915,5.1),(-1.91,5.35),(-1.905,5.1),(-1.9,4.85),(-1.895,5.35),(-1.89,5.45),(-1.885,5.05),(-1.88,4.85),(-1.875,5.5),(-1.87,5.3),(-1.86,5.6),(-2.015,5.55),(-2.04,5.15)]

# complex-plane groups: (real, imaginary), low-power colours first
c1_green = [(-4.8,-3.4),(-1.9,-5.3),(-1,-4.6),(-.25,-6.1),(.9,-5.2),(1.7,-5.7),(2.6,-4),(3.2,-5),(3.8,-6.1),(4.5,-4.2),(5.8,-4.6),(6.5,-3.8),(5.5,-3.2),(-1.9,-4),(-.8,-5.6),(.2,-4.4),(2.4,-5.3),(4.1,-5),(-1.4,-5.4),(.4,-5.7),(1.3,-4.1),(3.4,-4.2),(5,-3.6),(2.1,-4.5),(-.3,-5)]
c1_teal = [(1.6,-4.6),(.6,-3.8),(2.2,-3.4),(3.8,-3),(4.8,-2.2),(4.5,-1.2),(5.1,-.1),(4.5,.9),(3.4,-3.4),(1.2,-3),(3,-2.3),(4,-1.6),(3.6,-.4),(-3.1,2.9),(.6,-2.9),(2.6,-3.9),(4.9,-1.7),(4.3,-2.5),(3.3,-1.2),(4.2,-.4),(4.9,.5),(2.9,-3.1)]
c1_steel = [(1.3,3.4),(3.6,2.3),(2.4,2.5),(.2,2.9),(.9,2.6),(4.3,1),(3.5,1),(3.1,-1.6),(3.9,.1),(2.1,-2.9),(3.7,-1),(1.6,-3.3),(.7,-3.2),(3.2,1.7),(1.7,2.8),(2.9,2),(3.3,-.2),(2.7,-2.4),(1.1,-3.5),(3.9,.6)]
c1_blue = [(2.4,-2.2),(2.8,1.1),(1.4,-2.3),(2.9,-.4),(1.9,1.9),(.9,-2),(1.5,2),(2.2,.4),(3.1,-1),(2.2,-1.3),(1.7,2.4),(.8,2.2),(2.5,1.6),(3.3,.5),(2.7,-1.7),(.6,-2.6),(1.5,-2.7)]
c1_deep = [(2.7,.4),(1.9,-.1),(.9,1.8),(1.4,1),(.5,-1.6),(2.2,-.7),(1.2,-1.2),(2.2,1.1),(1.7,-1.7),(1,-.6),(2.5,-.1),(1.1,2.2)]
c1_yellow = [(1.8,-.8),(1.1,1.7),(.9,-1.5),(1.5,.5),(1.4,1.7),(.6,2.1)]
c1_amber = [(1.5,.3),(.5,-1.1),(.8,.9),(1.3,-.6),(.4,1.2),(.6,-.2),(.9,1.9),(.8,-1.3),(1.2,.9)]
c1_orange = [(.7,1.4),(.2,-.3),(.3,.6),(.5,-1),(.2,1.9),(.1,-1.8),(.3,-.8),(.5,.1),(.1,1.1),(.2,-2.2),(.4,2.3)]
c1_red = [(-1.1,3.2),(-4.3,1.8),(-3.1,2.3),(-2.7,1),(-.9,1.9),(-4.1,.4),(-3.3,-.1),(-3.3,-1.1),(-1.6,-2.4),(-.9,-3.1),(-.6,-1.6),(-1.9,.5),(-2.2,2.5),(-.3,2.6),(-3.5,1.2),(-2.4,-1.4),(-1.3,-.8),(-.4,.6),(-1.6,1.6),(-2.7,-.6),(-1.7,-1.7),(-.3,-.4),(-.9,-1.9),(-2,-.2),(-.4,-2.4),(-3,-1.4),(-1.1,.9),(-1.6,-.4),(-2.5,1.7),(-.2,1.6),(-.7,2.6),(-1.6,2.6),(-.5,-1),(-.1,-2),(-2.2,.1),(-1,.1),(-.2,-1.1),(-3,.3),(-2.3,-.9),(-1.2,-1.5),(-.1,.3),(-2,1.2),(-3.8,1.1)]

c3_green = [(1.6,.4)]
c3_teal = [(1.7,.3),(-4.4,1.2),(-4,1.2),(-2.4,2.3),(-2.3,1.5),(.3,-2.4)]
c3_steel = [(-1.4,2.5),(-1.4,2.2),(-.2,2.4),(-.9,2.1),(-3.3,2),(-3,1.8)]
c3_blue = [(-3.3,1.2),(-3.7,.6),(-3.9,.1),(-3.7,-.3),(-3.6,-.9),(-3.2,-.7),(-3.8,-1.4),(-3.3,-1.9),(-3,-2),(-2.2,-2.5),(-2,-3),(-1.9,1.8),(-3.4,.4),(-3.3,-1.4),(-2.8,1.3),(-3,-.9)]
c3_yellow = [(-3.3,0),(-3.6,-1.4),(-3.1,-1.4),(-2.7,-.7),(-2.5,-1.5),(-1.6,-2.8),(-1,-3),(.9,-1.9),(-2.8,-.1),(-2.2,-2.1),(.4,-2),(-2.9,-1),(-2.4,-1.9)]
c3_amber = [(-3,.8),(-2.6,.7),(-2.3,.2),(-2.5,-.6),(-2.1,-1.1),(-.1,-2.8),(-.3,-2.3),(1,-1.6),(-2.3,-1.6),(-2.7,.3),(-1.9,-2.1),(1.3,-1.1),(-1.3,-2.5),(.6,-2)]
c3_orange = [(-1.9,.4),(-2,-.5),(-2.3,-1),(-1.6,-1.2),(-2,-1.8),(-1.4,-2),(-.9,-2.2),(-.5,-1.8),(.1,-2.1),(.7,-1.5),(1.5,-1.2),(1.5,-.3),(1,-.7),(-1.2,-.7),(-.7,-1.3),(.3,-1.3),(-.2,-2.6),(-1.6,-.2),(-.9,-1.7),(1.1,-1.3),(-1.6,-1.6),(-1.1,-2.4),(-.4,-2.2),(.5,-1.8),(.1,-1),(-2.3,-.3),(-1.3,-1.5),(-.5,-.7),(.8,-.3),(-1.9,-1.4),(1.3,-.7),(-.6,-2.5),(-1,-.2)]
c3_red = [(-2.9,-.3),(-2,.4),(-1.9,-1),(-1.8,1.6),(-1.6,1.4),(-1.4,.6),(-1.1,1.5),(-.8,.7),(-.4,1.5),(-.1,1.9),(.1,.9),(.4,1.3),(.9,1),(1,.3),(.5,.2),(-.2,-.4),(-.7,-.7),(-.1,-1.4),(.5,-.8),(-.9,0),(-1.3,-.3),(-.5,.1),(.6,1.2),(-1.1,-1.1),(.1,-.3),(-.1,.5),(-1.3,1.1),(-.7,1.2),(-.4,.9),(.3,.5),(-.8,.2),(.7,.5),(-.3,-.9),(.3,-.2),(-1.5,.1),(-.5,1.8),(-1.6,.9)]

c_green, c_teal, c_steel = "#00E294", "#00B4A2", "#0A8AB4"
c_blue, c_deep, c_yellow = "#0A58DC", "#0010F0", "#FFF000"
c_amber, c_orange, c_red = "#FFA500", "#FF6A00", "#FF1400"
T1_GROUPS = [(c1_green,c_green),(c1_teal,c_teal),(c1_steel,c_steel),(c1_blue,c_blue),(c1_deep,c_deep),(c1_yellow,c_yellow),(c1_amber,c_amber),(c1_orange,c_orange),(c1_red,c_red)]
T3_GROUPS = [(c3_green,c_green),(c3_teal,c_teal),(c3_steel,c_steel),(c3_blue,c_blue),(c3_yellow,c_yellow),(c3_amber,c_amber),(c3_orange,c_orange),(c3_red,c_red)]

W, H = 615, 659
INK = "#303030"
FONT = "Liberation Serif"
fig = go.Figure()

def dom(a, b, size, flip=False):
    return [1 - b / size, 1 - a / size] if flip else [a / size, b / size]

def label(text, x, y, size, color="black", angle=0):
    fig.add_annotation(text=text, xref="paper", yref="paper", x=x / W, y=1 - y / H, showarrow=False, textangle=angle,
                       xanchor="center", yanchor="middle", font=dict(size=size, color=color, family=FONT))

def axes(n, rect, xr, yr, xticks, yticks, tick, box=False):
    l, r, t, b = rect
    sfx = "" if n == 1 else str(n)
    common = dict(ticks="inside", ticklen=4, tickwidth=1, tickcolor=INK, linecolor=INK, linewidth=1,
                  showline=True, zeroline=False, mirror="ticks" if box else False, showgrid=box, gridcolor="#EBEBEB",
                  automargin=False, tickfont=dict(size=tick, color=INK, family=FONT))
    fig.update_layout({
        "xaxis" + sfx: dict(common, domain=dom(l, r, W), range=xr, tickvals=xticks,
                            ticktext=[str(v) for v in xticks], anchor="y" + sfx),
        "yaxis" + sfx: dict(common, domain=dom(t, b, H, True), range=yr, tickvals=yticks,
                            ticktext=[str(v) for v in yticks], anchor="x" + sfx),
    })

def scatter(n, pts, name, color, legend, show=True):
    sfx = "" if n == 1 else str(n)
    fig.add_trace(go.Scatter(x=[p[0] for p in pts], y=[p[1] for p in pts], mode="markers", name=name,
                             xaxis="x" + sfx, yaxis="y" + sfx, legend=legend, showlegend=show,
                             marker=dict(symbol="circle-open", size=6.5, color=color, line=dict(width=1.2, color=color))))

def bubbles(n, groups):
    sfx = str(n)
    for pts, color in groups:
        fig.add_trace(go.Scatter(x=[p[0] for p in pts], y=[p[1] for p in pts], mode="markers", showlegend=False,
                                 xaxis="x" + sfx, yaxis="y" + sfx,
                                 marker=dict(size=12, color=color, line=dict(width=1, color="#111111"))))

def legend(key, x, y):
    fig.update_layout({key: dict(x=x / W, y=1 - y / H, xanchor="left", yanchor="top", bgcolor="white",
                                 bordercolor="#404040", borderwidth=1, tracegroupgap=0, itemwidth=30,
                                 font=dict(size=19, color=INK, family=FONT))})

def vline(n, x, y0, y1):
    sfx = "" if n == 1 else str(n)
    fig.add_shape(type="line", xref="x" + sfx, yref="paper", x0=x, x1=x, y0=1 - y0 / H, y1=1 - y1 / H,
                  line=dict(color="black", width=4, dash="4px,5px"))

def cross(n, xr, yr):
    sfx = str(n)
    fig.add_shape(type="line", xref="x" + sfx, yref="y" + sfx, x0=xr[0], x1=xr[1], y0=0, y1=0,
                  layer="between", line=dict(color="#E8101C", width=1.5))
    fig.add_shape(type="line", xref="x" + sfx, yref="y" + sfx, x0=0, x1=0, y0=yr[0], y1=yr[1],
                  layer="between", line=dict(color="#E8101C", width=1.5))

YLAB = "Curr [A], volt [V]"
T1C_X, T1C_Y = [-11.4, 11.9], [-7.7, 8.5]
T3C_X, T3C_Y = [-5.3, 5], [-5.2, 5.23]
axes(1, (52.7, 281, 19, 170), [-0.65, 63.7], [0, 8], [0, 20, 40, 60], [0, 2, 4, 6, 8], 20)
axes(2, (398, 581.7, 28, 160), T1C_X, T1C_Y, [-10, 0, 10], [-5, 0, 5], 22, box=True)
axes(3, (51.7, 280.7, 242.7, 391.3), [0, 47.4], [0, 5], [0, 20, 40], [0, 2, 4], 20)
axes(4, (398.3, 590.3, 241.3, 380), T3C_X, T3C_Y, [-4, -2, 0, 2, 4], [-5, 0, 5], 21, box=True)
axes(5, (57.3, 292.7, 460.3, 596), [-2.2, -1.69], [0, 6], [-2.2, -2, -1.8], [0, 2, 4, 6], 19)
axes(6, (382.3, 615, 465.3, 601), [-2.2, -1.768], [2, 8], [-2.2, -2, -1.8], [2, 4, 6, 8], 19)

scatter(1, t1_v + t1_v_core + t1_v_fill, "V", "#F01010", "legend")
scatter(1, t1_i + t1_i_core + t1_i_fill, "I", "#1010F0", "legend")
bubbles(2, T1_GROUPS)
scatter(3, t3_v + t3_v_core + t3_v_fill, "V", "#F01010", "legend2")
scatter(3, t3_i + t3_i_core + t3_i_fill, "I", "#1010F0", "legend2")
bubbles(4, T3_GROUPS)
scatter(5, h5_v + h5_v_core + h5_v_fill, "V", "#F01010", "legend3")
scatter(5, h5_i + h5_i_core + h5_i_fill, "I", "#1010F0", "legend3")
scatter(6, h7_v + h7_v_core + h7_v_fill, "V", "#F01010", "legend4")
scatter(6, h7_i + h7_i_core + h7_i_fill, "I", "#1010F0", "legend4")

legend("legend", 220.7, 29)
legend("legend2", 206, 333)
legend("legend3", 218, 472)
legend("legend4", 557, 475)

vline(1, 21, 8, 190)
vline(3, 14.1, 232.7, 414)
cross(2, T1C_X, T1C_Y)
cross(4, T3C_X, T3C_Y)

label("Power [kW]", 163, 213, 22, INK)
label("Power [kW]", 165, 432, 22, INK)
label("Power [kW]", 174, 644, 24, INK)
label("Power [kW]", 498, 646, 23, INK)
label("Real axis", 489, 211, 23, INK)
label("Real axis", 494, 432, 23, INK)
label(YLAB, 23, 94, 22, INK, -90)
label(YLAB, 22, 318, 20, INK, -90)
label(YLAB, 19, 539, 23, INK, -90)
label(YLAB, 350, 540, 23, INK, -90)
label("Imaginary axis", 355, 95, 23, INK, -90)
label("Imaginary axis", 355, 312, 23, INK, -90)

label("<b>T1</b>", 185, 30, 20)
label("<b>T3</b>", 237, 257, 20)
label("<b>5<sup>th</sup>, T2</b>", 170, 476, 20)
label("<b>7<sup>th</sup>, T2</b>", 497, 476, 20)
label("<b>Green-blue < P<sub>break-even</sub></b>", 507, 36, 13.5)
label("<b>Yellow-red > P<sub>break-even</sub></b>", 507, 55, 13.5)

fig.update_layout(width=W, height=H, autosize=False, margin=dict(l=0, r=0, t=0, b=0),
                  paper_bgcolor="white", plot_bgcolor="white", font=dict(family=FONT, color=INK))
fig.write_html("out.html", config=dict(displayModeBar=False),
               post_script="document.body.style.margin='0';document.body.style.overflow='hidden';")
